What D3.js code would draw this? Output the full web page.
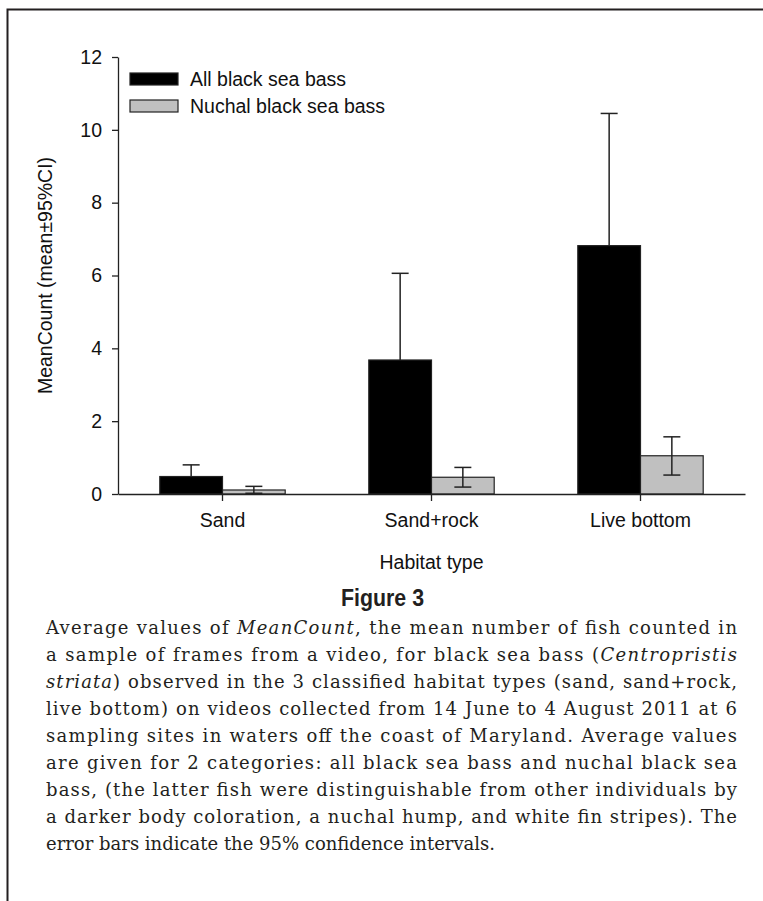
<!DOCTYPE html>
<html>
<head>
<meta charset="utf-8">
<script src="https://cdn.jsdelivr.net/npm/d3@7"></script>
<style>
  body { margin: 0; background: #fff; }
  svg text { font-family: "Liberation Sans", Arial, sans-serif; }
</style>
</head>
<body>
<div class="vis"></div>
<script>
// values
const categories = ["Sand", "Sand+rock", "Live bottom"];
const seriesNames = ["All black sea bass", "Nuchal black sea bass"];
const allMean = [0.48, 3.68, 6.82];
const allUpper = [0.80, 6.06, 10.45];
const allLower = [null, null, null]; // hidden behind the black bars
const nuchalMean = [0.11, 0.46, 1.05];
const nuchalUpper = [0.21, 0.73, 1.57];
const nuchalLower = [0.02, 0.19, 0.52];
const yTicks = [0, 2, 4, 6, 8, 10, 12];

const captionLines = [
	[["Average values of ", 0], ["MeanCount", 1], [", the mean number of fish counted in", 0]],
	[["a sample of frames from a video, for black sea bass (", 0], ["Centropristis", 1]],
	[["striata", 1], [") observed in the 3 classified habitat types (sand, sand+rock,", 0]],
	[["live bottom) on videos collected from 14 June to 4 August 2011 at 6", 0]],
	[["sampling sites in waters off the coast of Maryland. Average values", 0]],
	[["are given for 2 categories: all black sea bass and nuchal black sea", 0]],
	[["bass, (the latter fish were distinguishable from other individuals by", 0]],
	[["a darker body coloration, a nuchal hump, and white fin stripes). The", 0]],
	[["error bars indicate the 95% confidence intervals.", 0]]
];

const W = 763, H = 901;
const fs = 19.5;
const svg = d3.select(".vis").append("svg")
	.attr("width", W)
	.attr("height", H);

// frame (top and left edges only)
svg.append("path")
	.attr("d", "M7.5,901 V9.5 H763")
	.attr("fill", "none")
	.attr("stroke", "#231f20")
	.attr("stroke-width", 2);

const margin = {top: 57, left: 118, right: 18};
const plotBottom = 494;

const y = d3.scaleLinear().domain([0, 12]).range([plotBottom, margin.top]);
const x = d3.scaleBand()
	.domain(categories)
	.range([margin.left, W - margin.right])
	.paddingInner(0.4)
	.paddingOuter(0.2);
const xs = d3.scaleBand().domain(seriesNames).range([0, x.bandwidth()]);

const rows = categories.map((c, i) => [
	{cat: c, s: seriesNames[0], v: allMean[i], lo: allLower[i], hi: allUpper[i], fill: "#000"},
	{cat: c, s: seriesNames[1], v: nuchalMean[i], lo: nuchalLower[i], hi: nuchalUpper[i], fill: "#c0c0c0"}
]).flat();

// bars
svg.selectAll("rect.bar")
	.data(rows)
	.enter()
	.append("rect")
	.attr("class", "bar")
	.attr("x", d => x(d.cat) + xs(d.s))
	.attr("y", d => y(d.v))
	.attr("width", xs.bandwidth())
	.attr("height", d => y(0) - y(d.v))
	.attr("fill", d => d.fill)
	.attr("stroke", "#222")
	.attr("stroke-width", 1.2);

// error bars
const capW = 17;
const cx = d => x(d.cat) + xs(d.s) + xs.bandwidth() / 2;
const eb = svg.selectAll("g.err")
	.data(rows)
	.enter()
	.append("g")
	.attr("class", "err")
	.attr("stroke", "#222")
	.attr("stroke-width", 1.5);
eb.append("line")
	.attr("x1", cx)
	.attr("x2", cx)
	.attr("y1", d => y(d.lo == null ? d.v : d.lo))
	.attr("y2", d => y(d.hi));
eb.append("line")
	.attr("x1", d => cx(d) - capW / 2)
	.attr("x2", d => cx(d) + capW / 2)
	.attr("y1", d => y(d.hi))
	.attr("y2", d => y(d.hi));
eb.filter(d => d.lo != null).append("line")
	.attr("x1", d => cx(d) - capW / 2)
	.attr("x2", d => cx(d) + capW / 2)
	.attr("y1", d => y(d.lo))
	.attr("y2", d => y(d.lo));

// Y axis
const yAxis = svg.append("g")
	.attr("transform", "translate(" + margin.left + ",0)")
	.call(d3.axisLeft(y).tickValues(yTicks).tickSize(6).tickSizeOuter(0).tickPadding(10));
yAxis.selectAll("path, line").attr("stroke", "#222").attr("stroke-width", 1.3);
yAxis.selectAll("text").attr("font-size", fs).attr("fill", "#111")
	.style("font-family", "'Liberation Sans', Arial, sans-serif");

// X axis
const xAxis = svg.append("g")
	.attr("transform", "translate(0," + plotBottom + ")")
	.call(d3.axisBottom(x).tickSize(7).tickSizeOuter(0).tickPadding(12));
xAxis.selectAll("path, line").attr("stroke", "#222").attr("stroke-width", 1.3);
xAxis.selectAll("text").attr("font-size", fs).attr("fill", "#111")
	.style("font-family", "'Liberation Sans', Arial, sans-serif");

// axis titles
svg.append("text")
	.attr("transform", "translate(52," + y(6) + ")rotate(-90)")
	.attr("text-anchor", "middle")
	.attr("font-size", fs)
	.attr("fill", "#111")
	.text("MeanCount (mean±95%CI)");

svg.append("text")
	.attr("x", x(categories[1]) + x.bandwidth() / 2)
	.attr("y", 569)
	.attr("text-anchor", "middle")
	.attr("font-size", fs)
	.attr("fill", "#111")
	.text("Habitat type");

// legend
const legend = svg.selectAll("g.leg")
	.data(seriesNames)
	.enter()
	.append("g")
	.attr("class", "leg")
	.attr("transform", (d, i) => "translate(130," + (73 + i * 27) + ")");
legend.append("rect")
	.attr("width", 48)
	.attr("height", 12)
	.attr("fill", (d, i) => i === 0 ? "#000" : "#c0c0c0")
	.attr("stroke", "#222")
	.attr("stroke-width", 1.2);
legend.append("text")
	.attr("x", 60)
	.attr("y", 13)
	.attr("font-size", fs)
	.attr("fill", "#111")
	.text(d => d);

// figure heading (condensed bold)
svg.append("text")
	.attr("x", 341)
	.attr("y", 606)
	.attr("textLength", 83)
	.attr("lengthAdjust", "spacingAndGlyphs")
	.attr("font-size", 24)
	.attr("font-weight", "bold")
	.attr("fill", "#231f20")
	.text("Figure 3");

// caption, justified except the last line
const capLeft = 46, capRight = 737, capTop = 634, capStep = 27;
const cap = svg.selectAll("text.cap")
	.data(captionLines)
	.enter()
	.append("text")
	.attr("class", "cap")
	.attr("x", capLeft)
	.attr("y", (d, i) => capTop + i * capStep)
	.attr("font-size", 18)
	.attr("fill", "#231f20")
	.style("font-family", "'DejaVu Serif', serif")
	.each(function(d, i) {
		if (i < captionLines.length - 1) {
			d3.select(this).attr("textLength", capRight - capLeft).attr("lengthAdjust", "spacing");
		}
	});
cap.selectAll("tspan")
	.data(d => d)
	.enter()
	.append("tspan")
	.attr("font-style", d => d[1] ? "italic" : "normal")
	.text(d => d[0]);
</script>
</body>
</html>
